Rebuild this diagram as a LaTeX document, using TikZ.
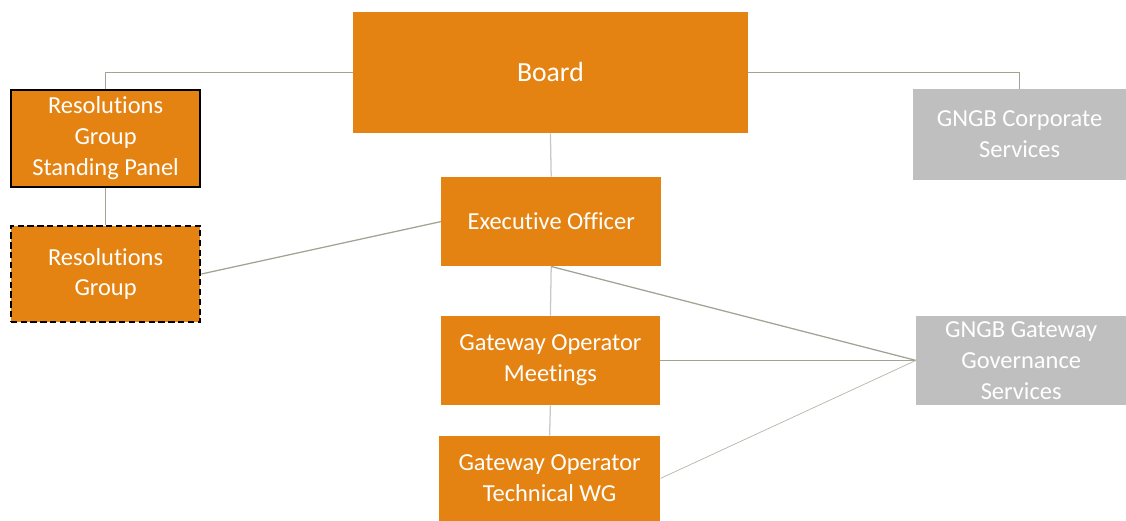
\documentclass[tikz,border=0pt]{standalone}
\usepackage{fontspec}
\setmainfont[Ligatures=NoCommon]{Carlito}
\usetikzlibrary{positioning}

\definecolor{unitorange}{RGB}{228,131,18}
\definecolor{servicegray}{RGB}{191,191,191}
\definecolor{linkgreen}{RGB}{160,164,146}
\definecolor{linkgray}{RGB}{200,200,200}

\begin{document}
\begin{tikzpicture}[
        font=\fontsize{17.4}{22}\selectfont,
        unit/.style={
            fill=unitorange,
            text=white,
            align=center,
            inner sep=0pt
        },
        service/.style={
            fill=servicegray,
            text=white,
            align=center,
            inner sep=0pt
        },
        link/.style={draw=linkgreen, line width=0.9pt},
        faintlink/.style={draw=linkgray, line width=0.9pt},
        thinlink/.style={draw=linkgreen!80, line width=0.5pt}
    ]
        \useasboundingbox (0,0) rectangle (28.15,-13.025);

        \node[unit, minimum width=9.88cm, minimum height=3.03cm, font=\fontsize{19.7}{24}\selectfont] (board) at (13.76,-1.81) {Board};

        \node[unit, draw=black, line width=1.4pt, minimum width=4.74cm, minimum height=2.44cm] (panel) at (2.64,-3.46) {Resolutions\\Group\\Standing Panel};
        \node[unit, draw=black, dash pattern=on 4.5pt off 2.5pt, line width=1.4pt, minimum width=4.74cm, minimum height=2.41cm] (resgroup) at (2.64,-6.85) {Resolutions\\Group};

        \node[unit, minimum width=5.5cm, minimum height=2.23cm] (exec) at (13.78,-5.54) {Executive Officer};
        \node[unit, minimum width=5.48cm, minimum height=2.23cm] (meetings) at (13.76,-9.01) {Gateway Operator\\Meetings};
        \node[unit, minimum width=5.53cm, minimum height=2.13cm] (techwg) at (13.74,-11.96) {Gateway Operator\\Technical WG};

        \node[service, minimum width=5.33cm, minimum height=2.28cm] (corporate) at (25.49,-3.36) {GNGB Corporate\\Services};
        \node[service, minimum width=5.25cm, minimum height=2.23cm] (governance) at (25.53,-9.01) {GNGB Gateway\\Governance\\Services};

        \draw[link] (board.west) -| (panel.north);
        \draw[link] (board.east) -| (corporate.north);
        \draw[faintlink] (board.south) -- (exec.north);
        \draw[link] (panel.south) -- (resgroup.north);
        \draw[link] (resgroup.east) -- (exec.west);
        \draw[faintlink] (exec.south) -- (meetings.north);
        \draw[faintlink] (meetings.south) -- (techwg.north);

        \draw[link] (exec.south) -- (governance.west);
        \draw[link] (meetings.east) -- (governance.west);
        \draw[thinlink] (techwg.east) -- (governance.west);
    \end{tikzpicture}
\end{document}
